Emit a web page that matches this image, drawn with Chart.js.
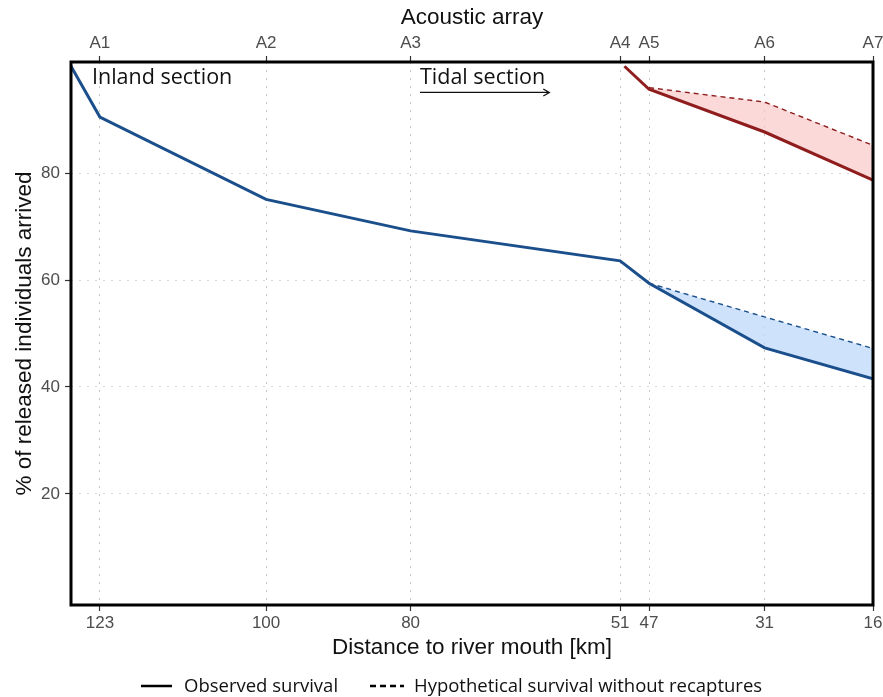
<!DOCTYPE html>
<html>
<head>
<meta charset="utf-8">
<script src="https://cdn.jsdelivr.net/npm/chart.js@4.4.0/dist/chart.umd.min.js"></script>
<style>
    html, body { margin: 0; padding: 0; background: #fff; }
</style>
</head>
<body>
<canvas id="chart" width="883" height="697"></canvas>
<script>
(function(){
    "use strict";

    // axis ticks
    var kmTicks = [123, 100, 80, 51, 47, 31, 16];
    var arrayLabels = ["A1", "A2", "A3", "A4", "A5", "A6", "A7"];
    var percentTicks = [20, 40, 60, 80];

    // inland release (blue)
    var inlandKm = [127, 123, 100, 80, 51, 47, 31, 16];
    var inlandObserved = [100, 90.5, 75.1, 69.2, 63.6, 59.4, 47.3, 41.5];
    var inlandHypKm = [47, 31, 16];
    var inlandHypothetical = [59.4, 53.1, 47.2];

    // tidal release (red)
    var tidalKm = [50.4, 47, 31, 16];
    var tidalObserved = [100, 95.7, 87.7, 78.7];
    var tidalHypKm = [47, 31, 16];
    var tidalHypothetical = [96.0, 93.3, 85.2];

    var toPoints = function(xs, ys) {
        var pts = [];
        for(var i = 0; i < xs.length; i++) {
            pts.push({x: xs[i], y: ys[i]});
        }
        return pts;
    };

    var BLUE = "#1b4f8c";
    var RED = "#8f1d1d";
    var TICK_GREY = "#4d4d4d";

    var lineSet = function(label, pts, color, dashed, fillTo, fillColor) {
        return {
            label: label,
            data: pts,
            borderColor: color,
            borderWidth: dashed ? 1.4 : 3,
            borderDash: dashed ? [5, 4] : [],
            pointRadius: 0,
            tension: 0,
            fill: fillTo === null ? false : {target: fillTo},
            backgroundColor: fillColor || "transparent"
        };
    };

    // frame round the plot, like theme_bw
    var framePlugin = {
        id: "frame",
        afterDraw: function(chart) {
            var a = chart.chartArea, ctx = chart.ctx;
            ctx.save();
            ctx.lineWidth = 3;
            ctx.strokeStyle = "#000";
            ctx.strokeRect(a.left, a.top, a.right - a.left, a.bottom - a.top);
            ctx.restore();
        }
    };

    // section labels and the legend
    var notesPlugin = {
        id: "notes",
        afterDraw: function(chart) {
            var ctx = chart.ctx;
            var xs = chart.scales.x, ys = chart.scales.y;
            ctx.save();
            ctx.fillStyle = "#111";
            ctx.font = "21.5px 'Open Sans', sans-serif";
            ctx.textBaseline = "middle";
            ctx.textAlign = "left";
            ctx.fillText("Inland section", xs.getPixelForValue(124.1), ys.getPixelForValue(97.9));
            ctx.fillText("Tidal section", xs.getPixelForValue(78.7), ys.getPixelForValue(97.8));

            // arrow under "Tidal section"
            var ax1 = xs.getPixelForValue(78.7), ax2 = xs.getPixelForValue(60.8);
            var ay = ys.getPixelForValue(95.1);
            ctx.strokeStyle = "#111";
            ctx.lineWidth = 1.3;
            ctx.beginPath();
            ctx.moveTo(ax1, ay);
            ctx.lineTo(ax2, ay);
            ctx.moveTo(ax2 - 6, ay - 3.5);
            ctx.lineTo(ax2, ay);
            ctx.lineTo(ax2 - 6, ay + 3.5);
            ctx.stroke();

            // legend
            var ly = 686;
            ctx.strokeStyle = "#000";
            ctx.lineWidth = 2.5;
            ctx.beginPath();
            ctx.moveTo(141, ly);
            ctx.lineTo(172, ly);
            ctx.stroke();
            ctx.setLineDash([6, 4]);
            ctx.beginPath();
            ctx.moveTo(370, ly);
            ctx.lineTo(404, ly);
            ctx.stroke();
            ctx.setLineDash([]);
            ctx.font = "18.5px 'Open Sans', sans-serif";
            ctx.fillStyle = "#111";
            ctx.fillText("Observed survival", 184, ly + 1);
            ctx.fillText("Hypothetical survival without recaptures", 414, ly + 1);
            ctx.restore();
        }
    };

    var tickFont = {family: "'Liberation Sans', Arial, sans-serif", size: 17};
    var titleFont = {family: "'Liberation Sans', Arial, sans-serif", size: 22.5};

    var config = {
        type: "line",
        data: {
            datasets: [
                lineSet("Inland observed", toPoints(inlandKm, inlandObserved), BLUE, false, null),
                lineSet("Tidal observed", toPoints(tidalKm, tidalObserved), RED, false, null),
                lineSet("Inland hypothetical", toPoints(inlandHypKm, inlandHypothetical), BLUE, true, 0, "rgba(190,218,250,0.75)"),
                lineSet("Tidal hypothetical", toPoints(tidalHypKm, tidalHypothetical), RED, true, 1, "rgba(250,196,196,0.65)")
            ]
        },
        options: {
            responsive: false,
            animation: false,
            layout: {padding: {left: 0, right: 10, top: 0, bottom: 0}},
            plugins: {
                legend: {display: false},
                tooltip: {enabled: false}
            },
            scales: {
                x: {
                    type: "linear",
                    position: "bottom",
                    min: 16,
                    max: 127,
                    reverse: true,
                    afterBuildTicks: function(scale) {
                        scale.ticks = kmTicks.map(function(v){ return {value: v}; });
                    },
                    afterFit: function(scale) {
                        scale.height = 92;
                        scale.paddingLeft = 0;
                        scale.paddingRight = 0;
                    },
                    ticks: {
                        autoSkip: false,
                        maxRotation: 0,
                        padding: 2,
                        color: TICK_GREY,
                        font: tickFont,
                        callback: function(v) { return String(v); }
                    },
                    grid: {
                        color: "rgba(0,0,0,0.22)",
                        lineWidth: 1,
                        tickLength: 6,
                        tickColor: "#333",
                        tickWidth: 1.2,
                        tickBorderDash: []
                    },
                    border: {display: false, dash: [2, 6]},
                    title: {
                        display: true,
                        text: "Distance to river mouth [km]",
                        color: "#111",
                        font: titleFont,
                        padding: {top: 0, bottom: 36}
                    }
                },
                x2: {
                    type: "linear",
                    position: "top",
                    min: 16,
                    max: 127,
                    reverse: true,
                    afterBuildTicks: function(scale) {
                        scale.ticks = kmTicks.map(function(v){ return {value: v}; });
                    },
                    afterFit: function(scale) {
                        scale.height = 62;
                        scale.paddingLeft = 0;
                        scale.paddingRight = 0;
                    },
                    ticks: {
                        autoSkip: false,
                        maxRotation: 0,
                        padding: 2,
                        color: TICK_GREY,
                        font: tickFont,
                        callback: function(v) {
                            var i = kmTicks.indexOf(v);
                            return i >= 0 ? arrayLabels[i] : "";
                        }
                    },
                    grid: {
                        drawOnChartArea: false,
                        tickLength: 6,
                        tickColor: "#333",
                        tickWidth: 1.2
                    },
                    border: {display: false},
                    title: {
                        display: true,
                        text: "Acoustic array",
                        color: "#111",
                        font: titleFont,
                        padding: {top: 4, bottom: 0}
                    }
                },
                y: {
                    type: "linear",
                    min: -0.8,
                    max: 100.8,
                    afterBuildTicks: function(scale) {
                        scale.ticks = percentTicks.map(function(v){ return {value: v}; });
                    },
                    afterFit: function(scale) {
                        scale.width = 71;
                    },
                    ticks: {
                        padding: 5,
                        color: TICK_GREY,
                        font: tickFont
                    },
                    grid: {
                        color: "rgba(0,0,0,0.16)",
                        lineWidth: 1,
                        tickLength: 6,
                        tickColor: "#333",
                        tickWidth: 1.2,
                        tickBorderDash: []
                    },
                    border: {display: false, dash: [2, 6]},
                    title: {
                        display: true,
                        text: "% of released individuals arrived",
                        color: "#111",
                        font: titleFont,
                        padding: {top: 11, bottom: 0}
                    }
                }
            }
        },
        plugins: [framePlugin, notesPlugin]
    };

    new Chart(document.getElementById("chart"), config);
})();
</script>
</body>
</html>
